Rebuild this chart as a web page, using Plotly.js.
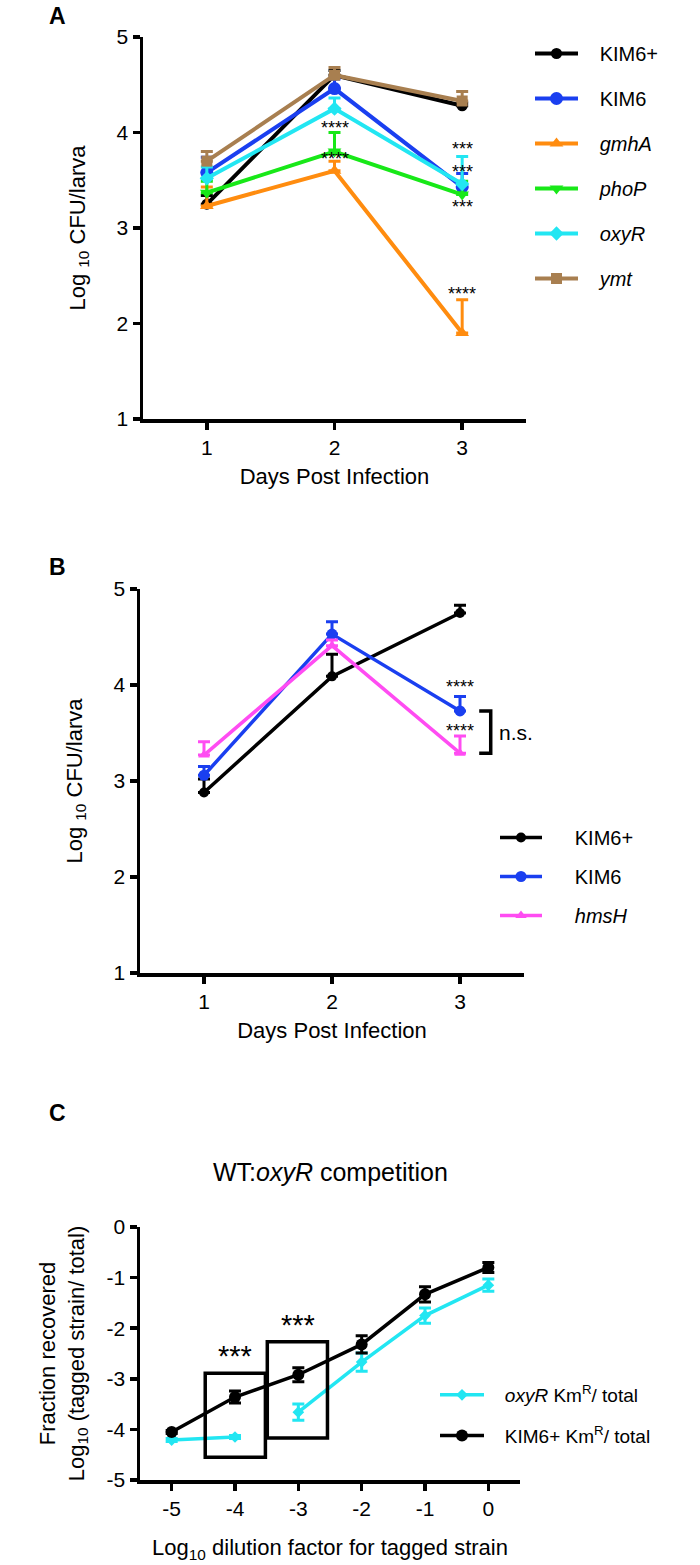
<!DOCTYPE html>
<html><head><meta charset="utf-8">
<script src="https://cdn.plot.ly/plotly-3.0.1.min.js"></script>
<style>html,body{margin:0;padding:0;background:#fff}#chart{width:700px;height:1565px}</style>
</head><body><div id="chart"></div><script>
// ---------- Panel A data ----------
const daysA = [1, 2, 3];
const namesA = ['KIM6+', 'KIM6', '<i>gmhA</i>', '<i>phoP</i>', '<i>oxyR</i>', '<i>ymt</i>'];
const kim6PlusA = [3.25, 4.60, 4.28];
const kim6PlusAErr = [0.09, 0.05, 0.03];
const kim6A = [3.58, 4.46, 3.43];
const kim6AErr = [0.16, 0.10, 0.14];
const gmhA = [3.23, 3.60, 1.90];
const gmhAErr = [0.20, 0.10, 0.35];
const phoP = [3.37, 3.80, 3.35];
const phoPErr = [0.12, 0.20, 0.14];
const oxyRA = [3.52, 4.25, 3.46];
const oxyRAErr = [0.12, 0.11, 0.29];
const ymt = [3.70, 4.60, 4.33];
const ymtErr = [0.10, 0.08, 0.10];
const sigAx = [2, 2, 3, 3, 3];
const sigAy = [4.10, 3.77, 3.76, 3.27, 2.36];
const sigAtext = ['****', '****', '***<br>***', '***', '****'];

// ---------- Panel B data ----------
const daysB = [1, 2, 3];
const namesB = ['KIM6+', 'KIM6', '<i>hmsH</i>'];
const kim6PlusB = [2.88, 4.09, 4.75];
const kim6PlusBErr = [0.14, 0.23, 0.08];
const kim6B = [3.06, 4.53, 3.73];
const kim6BErr = [0.09, 0.13, 0.15];
const hmsH = [3.27, 4.41, 3.29];
const hmsHErr = [0.14, 0.06, 0.18];
const sigBx = [3, 3];
const sigBy = [4.03, 3.57];
const sigBtext = ['****', '****'];

// ---------- Panel C data ----------
const dilution = [-5, -4, -3, -2, -1, 0];
const dilutionLabels = ['-5', '-4', '-3', '-2', '-1', '0'];
const fracTicks = [0, -1, -2, -3, -4, -5];
const fracLabels = ['0', '-1', '-2', '-3', '-4', '-5'];
const oxyRC = [-4.21, -4.15, -3.66, -2.67, -1.75, -1.15];
const oxyRCErr = [0.03, 0.03, 0.16, 0.18, 0.15, 0.12];
const kim6PlusC = [-4.05, -3.36, -2.92, -2.32, -1.33, -0.80];
const kim6PlusCErr = [0.03, 0.12, 0.14, 0.17, 0.15, 0.10];
const namesC = ['<i>oxyR</i> Km<sup>R</sup>/ total', 'KIM6+ Km<sup>R</sup>/ total'];
const starsCx = [-4, -3];
const starsCy = [-2.39, -1.78];
const boxesC = [[-4.47, -3.52, -4.55, -2.89], [-3.49, -2.54, -4.17, -2.27]];

// ---------- layout helpers ----------
const W = 700, H = 1565;
const FONT = 'Arial, "Liberation Sans", Helvetica, sans-serif';
const fx = (a, b) => [a / W, b / W];
const fy = (t, b) => [1 - b / H, 1 - t / H];
const pad = n => '\u00a0'.repeat(n);

const COL = {black: '#000000', blue: '#1a3ff0', orange: '#ff8c0f', green: '#18e818',
  cyan: '#22e6f2', brown: '#a87f50', magenta: '#ff4cf2'};

function tr(x, y, err, name, color, symbol, size, lw, xa, ya, legend, group, sym) {
  return {
    x: x, y: y, name: name, type: 'scatter', mode: 'lines+markers',
    xaxis: xa, yaxis: ya, legend: legend, legendgroup: group,
    line: {color: color, width: lw},
    marker: {color: color, symbol: symbol, size: size},
    error_y: {type: 'data', symmetric: !!sym, array: err,
      arrayminus: sym ? err : err.map(() => 0),
      color: color, thickness: 3, width: 6},
    hoverinfo: 'skip'
  };
}

const PA = pad(3), PB = pad(5), PC = pad(3);
const traces = [
  tr(daysA, kim6PlusA, kim6PlusAErr, PA + namesA[0], COL.black, 'circle', 11, 4, 'x', 'y', 'legend', 'a0'),
  tr(daysA, kim6A, kim6AErr, PA + namesA[1], COL.blue, 'circle', 13, 4, 'x', 'y', 'legend', 'a1'),
  tr(daysA, gmhA, gmhAErr, PA + namesA[2], COL.orange, 'triangle-up', 12, 4, 'x', 'y', 'legend', 'a2'),
  tr(daysA, phoP, phoPErr, PA + namesA[3], COL.green, 'triangle-down', 12, 4, 'x', 'y', 'legend', 'a3'),
  tr(daysA, oxyRA, oxyRAErr, PA + namesA[4], COL.cyan, 'diamond', 11, 4, 'x', 'y', 'legend', 'a4'),
  tr(daysA, ymt, ymtErr, PA + namesA[5], COL.brown, 'square', 11, 4, 'x', 'y', 'legend', 'a5'),

  tr(daysB, kim6PlusB, kim6PlusBErr, PB + namesB[0], COL.black, 'circle', 10, 3.5, 'x2', 'y2', 'legend2', 'b0'),
  tr(daysB, kim6B, kim6BErr, PB + namesB[1], COL.blue, 'circle', 11, 3.5, 'x2', 'y2', 'legend2', 'b1'),
  tr(daysB, hmsH, hmsHErr, PB + namesB[2], COL.magenta, 'triangle-up', 10, 3.5, 'x2', 'y2', 'legend2', 'b2')
];

// panel C: oxyR line is broken between -4 and -3
const gapIdx = 2;
const withGap = arr => arr.slice(0, gapIdx).concat([null], arr.slice(gapIdx));
const cTrace = tr(withGap(dilution), withGap(oxyRC), withGap(oxyRCErr).map(v => v === null ? 0 : v),
  PC + namesC[0], COL.cyan, 'diamond', 9, 3.5, 'x3', 'y3', 'legend3', 'c0', true);
cTrace.connectgaps = false;
traces.push(cTrace);
traces.push(tr(dilution, kim6PlusC, kim6PlusCErr, PC + namesC[1], COL.black, 'circle', 12, 3.5, 'x3', 'y3', 'legend3', 'c1', true));

function axis(extra) {
  return Object.assign({
    showline: true, linecolor: '#000', linewidth: 3.5, mirror: false,
    ticks: 'outside', ticklen: 7, tickwidth: 3.5, tickcolor: '#000',
    showgrid: false, zeroline: false, fixedrange: true,
    tickfont: {family: FONT, size: 21, color: '#000'}
  }, extra);
}
const titleFont = {family: FONT, size: 22, color: '#000'};

const annotations = [];
function label(text, xpx, ypx, size) {
  annotations.push({text: '<b>' + text + '</b>', xref: 'paper', yref: 'paper', x: xpx / W, y: 1 - ypx / H,
    xanchor: 'center', yanchor: 'middle', showarrow: false, font: {family: FONT, size: size, color: '#000'}});
}
label('A', 57, 16, 23);
label('B', 57, 567, 23);
label('C', 57, 1113, 23);

annotations.push({text: 'WT:<i>oxyR</i> competition', xref: 'paper', yref: 'paper', x: 330 / W, y: 1 - 1172 / H,
  xanchor: 'center', yanchor: 'middle', showarrow: false, font: {family: FONT, size: 25, color: '#000'}});

sigAx.forEach((x, i) => annotations.push({text: sigAtext[i], x: x, y: sigAy[i], xref: 'x', yref: 'y',
  showarrow: false, xanchor: 'center', yanchor: 'middle', yshift: -5, font: {family: FONT, size: 18, color: '#000'}}));
sigBx.forEach((x, i) => annotations.push({text: sigBtext[i], x: x, y: sigBy[i], xref: 'x2', yref: 'y2',
  showarrow: false, xanchor: 'center', yanchor: 'middle', yshift: -5, font: {family: FONT, size: 18, color: '#000'}}));
annotations.push({text: 'n.s.', x: 3.29, y: (kim6B[2] + hmsH[2]) / 2, xref: 'x2', yref: 'y2', showarrow: false,
  xanchor: 'left', yanchor: 'middle', font: {family: FONT, size: 21, color: '#000'}});
starsCx.forEach((x, i) => annotations.push({text: '***', x: x, y: starsCy[i], xref: 'x3', yref: 'y3',
  showarrow: false, xanchor: 'center', yanchor: 'middle', yshift: -8, font: {family: FONT, size: 29, color: '#000'}}));

const shapes = [];
// bracket between KIM6 and hmsH at day 3
shapes.push({type: 'path', xref: 'x2', yref: 'y2',
  path: 'M 3.15 ' + kim6B[2] + ' L 3.24 ' + kim6B[2] + ' L 3.24 ' + hmsH[2] + ' L 3.15 ' + hmsH[2],
  line: {color: '#000', width: 3.5}});
boxesC.forEach(b => shapes.push({type: 'rect', xref: 'x3', yref: 'y3', x0: b[0], x1: b[1], y0: b[2], y1: b[3],
  line: {color: '#000', width: 3.5}, fillcolor: 'rgba(0,0,0,0)'}));

const legendBase = {xanchor: 'left', yanchor: 'top', bgcolor: 'rgba(0,0,0,0)', borderwidth: 0,
  itemclick: false, itemdoubleclick: false};

const layout = {
  width: W, height: H, margin: {l: 0, r: 0, t: 0, b: 0},
  paper_bgcolor: '#fff', plot_bgcolor: 'rgba(0,0,0,0)',
  font: {family: FONT, color: '#000'},
  showlegend: true,
  xaxis: axis({domain: fx(143, 526), range: [0.5, 3.5], anchor: 'y', tickvals: daysA,
    title: {text: 'Days Post Infection', font: titleFont, standoff: 12}}),
  yaxis: axis({domain: fy(37, 419), range: [1, 5], anchor: 'x', dtick: 1,
    title: {text: 'Log <sub>10</sub> CFU/larva', font: titleFont, standoff: 26}}),
  xaxis2: axis({domain: fx(140, 524), range: [0.5, 3.5], anchor: 'y2', tickvals: daysB,
    title: {text: 'Days Post Infection', font: titleFont, standoff: 12}}),
  yaxis2: axis({domain: fy(589, 973), range: [1, 5], anchor: 'x2', dtick: 1,
    title: {text: 'Log <sub>10</sub> CFU/larva', font: titleFont, standoff: 26}}),
  xaxis3: axis({domain: fx(140, 520), range: [-5.5, 0.5], anchor: 'y3', tickvals: dilution, ticktext: dilutionLabels,
    title: {text: 'Log<sub>10</sub> dilution factor for tagged strain', font: titleFont, standoff: 22}}),
  yaxis3: axis({domain: fy(1227, 1480), range: [-5, 0], anchor: 'x3', tickvals: fracTicks, ticktext: fracLabels,
    title: {text: 'Fraction recovered<br>Log<sub>10</sub> (tagged strain/ total)', font: titleFont, standoff: 17}}),
  legend: Object.assign({}, legendBase, {x: 530 / W, y: 1 - 34 / H, itemwidth: 43,
    font: {family: FONT, size: 20, color: '#000'}, tracegroupgap: 16}),
  legend2: Object.assign({}, legendBase, {x: 495 / W, y: 1 - 818 / H, itemwidth: 42,
    font: {family: FONT, size: 20, color: '#000'}, tracegroupgap: 10}),
  legend3: Object.assign({}, legendBase, {x: 435 / W, y: 1 - 1376 / H, itemwidth: 44,
    font: {family: FONT, size: 19, color: '#000'}, tracegroupgap: 13}),
  annotations: annotations,
  shapes: shapes
};

Plotly.newPlot('chart', traces, layout, {staticPlot: true, displayModeBar: false});
</script></body></html>
